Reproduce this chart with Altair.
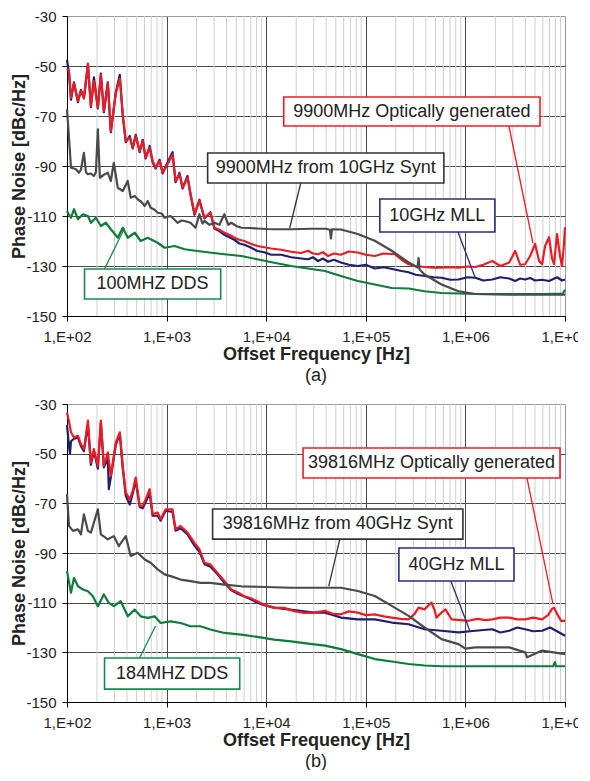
import altair as alt
import pandas as pd

FONT = "Liberation Sans"

# ---------------- Panel (a) data : x = log10(offset frequency), y = dBc/Hz ----------------
A_OPT_X = [2.00,2.02,2.04,2.07,2.11,2.14,2.17,2.21,2.24,2.27,2.31,2.34,2.37,2.41,2.44,2.49,2.53,2.56,2.59,2.63,
           2.66,2.69,2.73,2.76,2.79,2.83,2.86,2.89,2.93,2.96,3.01,3.06,3.09,3.13,3.16,3.21,3.24,3.28,3.33,3.38,
           3.44,3.48,3.53,3.58,3.63,3.68,3.73,3.78,3.84,3.91,3.98,4.05,4.15,4.25,4.35,4.42,4.47,4.52,4.57,4.62,
           4.68,4.75,4.83,4.92,5.00,5.09,5.18,5.29,5.36,5.43,5.50,5.59,5.68,5.76,5.85,5.93,6.02,6.10,6.18,6.27,
           6.35,6.44,6.50,6.55,6.60,6.65,6.70,6.74,6.77,6.80,6.84,6.87,6.89,6.92,6.95,6.97,6.99,7.00]
A_OPT_Y = [-51,-52,-62.7,-57,-64,-60,-62.7,-49,-66,-56,-66.7,-53.5,-68,-57,-76,-61,-55,-69.3,-80,-78.7,
           -82.7,-78,-84,-80,-86.7,-82.7,-88,-90.7,-88,-92.7,-89.3,-85.5,-96,-93.3,-98.7,-94.7,-101,-109,-104,-110.7,
           -108.7,-114.7,-115.5,-116.7,-117.5,-118.7,-119.5,-120,-121,-122,-122.5,-123,-123.5,-124.3,-124.8,-123.9,-125,-125.3,-124.5,-126,
           -125,-125.5,-124.2,-124.6,-125.5,-126,-125,-125.3,-127.5,-129.3,-130,-130.4,-130.7,-130.7,-130.5,-130.7,-130.2,-130.4,-129.5,-128,
           -130,-128.6,-124,-129.5,-129.3,-126,-121.2,-128,-129.3,-122,-118.5,-127,-129.3,-117.2,-126,-130,-121,-114.5]

A_MLL_X = [2.00,2.02,2.04,2.07,2.11,2.14,2.17,2.21,2.24,2.27,2.31,2.34,2.37,2.41,2.44,2.49,2.53,2.56,2.59,2.63,
           2.66,2.69,2.73,2.76,2.79,2.83,2.86,2.89,2.93,2.96,3.01,3.06,3.09,3.13,3.16,3.21,3.24,3.28,3.33,3.38,
           3.44,3.48,3.53,3.58,3.63,3.68,3.73,3.78,3.84,3.91,3.98,4.05,4.15,4.25,4.35,4.42,4.47,4.52,4.57,4.62,
           4.68,4.75,4.83,4.92,5.00,5.09,5.18,5.29,5.36,5.43,5.50,5.59,5.68,5.76,5.85,5.93,6.02,6.10,6.18,6.27,
           6.35,6.44,6.50,6.55,6.60,6.65,6.70,6.77,6.84,6.92,6.97,7.00]
A_MLL_Y = [-47.5,-53,-63.5,-56.5,-64.5,-59.5,-63,-49.5,-66.5,-54.5,-67,-53,-68.5,-56.5,-76.5,-60.5,-53.5,-70,-80.5,-78,
           -83,-77.5,-84.5,-79.5,-87,-82,-88.5,-91,-87.5,-93,-88.5,-84.5,-96.5,-92.8,-99,-94,-101.5,-109.5,-103.5,-111,
           -108.5,-115,-116,-117.5,-118.5,-119.5,-121,-121.5,-122.5,-124,-124.5,-125.5,-125.5,-126.5,-127,-127.3,-126.5,-128,-127,-128.3,
           -127.5,-128.6,-129.5,-130,-129.5,-131,-130.5,-131.4,-132,-132.5,-133.5,-134,-134.5,-134.7,-135.5,-135.4,-134.5,-134.7,-135.8,-135.4,
           -134.5,-135,-136,-135,-135.4,-134.8,-135.8,-135.5,-136,-134.5,-135.8,-135.4]

A_SYN_X = [2.00,2.02,2.04,2.07,2.09,2.12,2.14,2.17,2.19,2.21,2.24,2.27,2.29,2.31,2.33,2.37,2.41,2.44,2.47,2.51,
           2.56,2.61,2.64,2.68,2.71,2.75,2.78,2.81,2.84,2.88,2.91,2.95,2.98,3.04,3.08,3.11,3.15,3.18,3.24,3.29,
           3.33,3.36,3.38,3.43,3.48,3.53,3.58,3.62,3.65,3.70,3.75,3.83,3.91,4.00,4.08,4.25,4.45,4.60,4.64,4.65,
           4.66,4.75,4.92,5.09,5.26,5.43,5.52,5.53,5.54,5.59,5.76,5.93,6.10,6.30,6.44,7.00]
A_SYN_Y = [-67.3,-78.7,-90.7,-91,-91.3,-92.7,-91.5,-84.7,-92.5,-93.3,-93,-94,-92.5,-75.3,-94.7,-93.5,-92.7,-96,-88.7,-98.7,
           -100,-96,-102.7,-102,-103.3,-104.5,-106,-104,-106.7,-107.5,-108.7,-109,-110.7,-110,-111.5,-112.7,-111.8,-112,-112.7,-114.7,
           -109.3,-113,-112,-113.5,-112.7,-113.5,-109.3,-113.5,-112.7,-114,-114.7,-114.8,-115,-115.2,-115.3,-115.3,-115.1,-115.1,-115.5,-119,
           -115.3,-115.4,-117.2,-119.9,-123.9,-128.6,-130.6,-126.8,-131.4,-133.4,-137.4,-140.1,-141.2,-141.4,-141.5,-141.5]

A_DDS_X = [2.00,2.02,2.04,2.07,2.11,2.16,2.21,2.24,2.29,2.34,2.39,2.44,2.51,2.56,2.61,2.68,2.74,2.81,2.91,2.98,
           3.08,3.18,3.31,3.45,3.58,3.75,3.91,4.08,4.25,4.42,4.59,4.75,4.92,5.09,5.26,5.43,5.59,5.76,6.10,6.44,
           6.78,6.98,7.00]
A_DDS_Y = [-108,-109.5,-110.7,-107.3,-111.3,-109.3,-110,-112.7,-110.7,-114,-112.7,-115.3,-118.7,-114.7,-118.7,-116.7,-120,-118.7,-120.7,-122.7,
           -122,-123.3,-124,-124.7,-125.3,-126,-127.3,-128.7,-130,-131,-132,-134,-136,-137.4,-138.8,-139,-140.1,-140.8,-141.2,-141.2,
           -141.2,-141,-139.5]

# ---------------- Panel (b) data ----------------
B_OPT_X = [2.00,2.02,2.04,2.07,2.11,2.14,2.17,2.21,2.24,2.27,2.31,2.34,2.37,2.41,2.44,2.49,2.53,2.56,2.59,2.63,
           2.66,2.69,2.73,2.76,2.79,2.83,2.86,2.91,2.94,2.99,3.06,3.09,3.14,3.21,3.28,3.33,3.38,3.44,3.51,3.58,
           3.65,3.72,3.78,3.84,3.91,3.98,4.08,4.18,4.28,4.38,4.48,4.59,4.67,4.75,4.83,4.92,5.00,5.09,5.18,5.26,
           5.35,5.43,5.49,5.53,5.59,5.63,5.66,5.69,5.71,5.76,5.80,5.86,5.95,6.03,6.12,6.20,6.27,6.35,6.44,6.52,
           6.60,6.68,6.77,6.83,6.87,6.89,6.92,6.96,7.00]
B_OPT_Y = [-33.4,-37,-41.4,-43.5,-42.8,-46.2,-48.2,-36.7,-53.6,-48.2,-54.9,-36.7,-54.9,-49.5,-58.9,-45.5,-41.4,-54.9,-65.7,-68.4,
           -65,-59.6,-71,-71,-68.4,-64.3,-74.4,-73.7,-76.4,-72.4,-72.4,-80.5,-79.1,-81.8,-85.9,-88.5,-93.9,-94.6,-98,-101.3,
           -104.7,-106,-107.4,-108.1,-109.4,-110.8,-112.1,-112.1,-113.4,-114.1,-114,-113.3,-114.5,-114.7,-113.5,-114,-115,-114.7,-115.5,-116,
           -116.5,-116.7,-114.5,-112,-112.7,-111,-110,-113,-116,-114,-112.7,-116.7,-117,-117.3,-116.5,-117,-116.7,-116,-116,-116.7,
           -116.7,-116,-116.7,-115,-112.5,-112,-114.5,-117.3,-117.3]

B_MLL_X = [2.00,2.02,2.03,2.04,2.07,2.11,2.14,2.17,2.21,2.24,2.27,2.31,2.34,2.37,2.41,2.42,2.44,2.49,2.53,2.56,
           2.59,2.63,2.66,2.69,2.73,2.76,2.79,2.83,2.86,2.91,2.94,2.99,3.06,3.09,3.14,3.21,3.28,3.33,3.38,3.44,
           3.51,3.58,3.65,3.72,3.78,3.84,3.91,3.98,4.08,4.18,4.28,4.38,4.48,4.59,4.75,4.92,5.09,5.26,5.43,5.59,
           5.76,5.93,6.10,6.27,6.35,6.44,6.52,6.60,6.68,6.77,6.85,6.92,7.00]
B_MLL_Y = [-38.5,-47,-50,-45,-44,-43.5,-47,-49,-38.5,-54.5,-49,-56,-37.5,-55.5,-52,-64.3,-59.5,-46.5,-42,-56,
           -67,-70.5,-66,-61,-71.5,-72,-69.5,-66,-75,-75,-77,-73,-73.5,-81,-80,-82.5,-87,-89.5,-94.5,-95.5,
           -98.5,-102,-105,-106.5,-107.5,-108.5,-110,-111,-112,-112.5,-113,-113.5,-114,-114,-116,-116.7,-116.7,-118,-118.7,-120.7,
           -121.3,-122,-121.3,-120.7,-122,-121.3,-120,-120.7,-121.5,-121.3,-120,-121.5,-123.3]

B_SYN_X = [2.00,2.02,2.06,2.11,2.14,2.17,2.21,2.24,2.31,2.34,2.41,2.47,2.52,2.59,2.64,2.71,2.78,2.84,2.91,2.98,
           3.04,3.14,3.24,3.34,3.44,3.58,3.75,3.91,4.25,4.42,4.75,4.92,5.09,5.26,5.43,5.59,5.76,5.93,6.00,6.10,
           6.27,6.44,6.60,6.62,6.77,7.00]
B_SYN_Y = [-66.3,-79.1,-81.1,-80.5,-82.5,-74.4,-81.1,-81.8,-72.4,-82.5,-84.5,-83.2,-87.2,-83.2,-91.2,-89.9,-92.6,-93.9,-96.6,-98.6,
           -99.3,-100.7,-101.3,-102,-102,-102.7,-103.4,-103.6,-104,-104,-104,-105.3,-107.3,-111.3,-115.3,-120,-124.7,-126.7,-128.5,-128,
           -128,-128,-130,-132,-129.3,-130.7]

B_DDS_X = [2.00,2.04,2.07,2.11,2.16,2.21,2.26,2.31,2.37,2.42,2.47,2.54,2.61,2.68,2.74,2.81,2.88,2.94,3.04,3.14,
           3.24,3.34,3.44,3.58,3.75,3.91,4.08,4.25,4.42,4.59,4.75,4.92,5.09,5.26,5.43,5.59,5.76,6.10,6.44,6.88,
           6.90,6.91,7.00]
B_DDS_Y = [-97.3,-106,-100,-103.4,-104.7,-105.4,-107.4,-111.4,-106.7,-110.1,-111.4,-109.4,-115.5,-112.8,-115.5,-116.1,-115.5,-118.2,-117.5,-118.2,
           -119.5,-119.5,-120.8,-122.2,-122.9,-123.8,-124.9,-125.6,-126.5,-127.3,-128.7,-130.7,-132.7,-133.7,-134.7,-135.3,-135.6,-135.6,-135.6,-135.6,
           -134,-135.6,-135.6]

# ---------------- Callouts (box corners and leader ends, in log10(f) / dB) ----------------
SERIES_KEYS = ["opt", "synt", "mll", "dds"]
A_LABELS = ["9900MHz Optically generated", "9900MHz from 10GHz Synt", "10GHz MLL", "100MHZ DDS"]
A_BOX_X1 = [4.176, 3.412, 5.141, 2.176]
A_BOX_X2 = [6.749, 5.784, 6.296, 3.543]
A_BOX_Y1 = [-62.4, -84.8, -103.2, -131.2]
A_BOX_Y2 = [-74.0, -96.8, -116.4, -143.2]
A_LEAD_X1 = [6.437, 4.347, 5.925, 2.377]
A_LEAD_Y1 = [-74.0, -96.8, -116.4, -131.2]
A_LEAD_X2 = [6.678, 4.236, 6.096, 2.578]
A_LEAD_Y2 = [-120.8, -114.8, -134.4, -114.8]

B_LABELS = ["39816MHz Optically generated", "39816MHz from 40GHz Synt", "40GHz MLL", "184MHZ DDS"]
B_BOX_X1 = [4.370, 3.462, 5.332, 2.377]
B_BOX_X2 = [6.950, 5.975, 6.488, 3.734]
B_BOX_Y1 = [-47.7, -72.3, -88.0, -132.3]
B_BOX_Y2 = [-59.8, -84.4, -101.3, -144.8]
B_LEAD_X1 = [6.618, 4.739, 5.854, 2.729]
B_LEAD_Y1 = [-59.8, -84.4, -101.3, -132.3]
B_LEAD_X2 = [6.879, 4.628, 6.045, 2.889]
B_LEAD_Y2 = [-110.5, -103.3, -121.4, -119.4]

X_TICKS = [1e2, 1e3, 1e4, 1e5, 1e6, 1e7]
X_MINOR = [m * 10 ** e for e in range(2, 7) for m in range(2, 10)]
Y_TICKS = [-150, -130, -110, -90, -70, -50, -30]

COLORS = {"opt": "#ED1C24", "mll": "#1E1F6E", "synt": "#4A4A4A", "dds": "#0D7D3C"}
BOX_COLORS = {"opt": "#ED1C24", "mll": "#2B2C7C", "synt": "#333333", "dds": "#17894A"}


def panel(series, labels, bx1, bx2, by1, by2, lx1, ly1, lx2, ly2, caption, height):
    xs = alt.Scale(type="log", domain=[100, 1e7], nice=False)
    ys = alt.Scale(domain=[-150, -30], nice=False)
    xaxis = alt.Axis(values=X_TICKS, labelExpr="'1,E+0' + round(log(datum.value)/LN10)",
                     title="Offset Frequency [Hz]", titleFontSize=18, titleFontWeight="bold",
                     labelFontSize=15, tickSize=5, tickColor="#000", domainColor="#000",
                     gridColor={"condition": {"test": "datum.value > 9000000", "value": "#9a9a9a"}, "value": "#4a4a4a"},
                     labelPadding=8, titlePadding=1, labelColor="#222", titleColor="#222",
                     labelFont=FONT, titleFont=FONT, labelFlush=False, labelOverlap=False)
    yaxis = alt.Axis(values=Y_TICKS, labelExpr="'' + datum.value",
                     title="Phase Noise [dBc/Hz]", titleFontSize=18, titleFontWeight="bold",
                     labelFontSize=15, tickSize=5, tickColor="#000", domainColor="#000",
                     gridColor={"condition": {"test": "datum.value > -31", "value": "#9a9a9a"}, "value": "#4a4a4a"},
                     labelPadding=6, titlePadding=-3, labelColor="#222", titleColor="#222",
                     labelFont=FONT, titleFont=FONT, labelFlush=False, labelOverlap=False)

    minor = alt.Chart(pd.DataFrame({"f": X_MINOR})).mark_rule(color="#cfcfcf", strokeWidth=1).encode(
        x=alt.X("f:Q", scale=xs, axis=xaxis)
    )
    layers = [minor]
    for key in ["dds", "mll", "opt", "synt"]:
        xv, yv = series[key]
        df = pd.DataFrame({"f": [10 ** v for v in xv], "pn": yv})
        layers.append(
            alt.Chart(df).mark_line(color=COLORS[key], strokeWidth=2.2, strokeJoin="round").encode(
                x=alt.X("f:Q", scale=xs, axis=xaxis),
                y=alt.Y("pn:Q", scale=ys, axis=yaxis),
            )
        )

    cdf = pd.DataFrame({
        "s": SERIES_KEYS, "label": labels,
        "bx1": [10 ** v for v in bx1], "bx2": [10 ** v for v in bx2],
        "tx": [10 ** ((a + b) / 2) for a, b in zip(bx1, bx2)],
        "by1": by1, "by2": by2, "ty": [(a + b) / 2 for a, b in zip(by1, by2)],
        "lx1": [10 ** v for v in lx1], "lx2": [10 ** v for v in lx2],
        "ly1": ly1, "ly2": ly2,
    })
    cscale = alt.Scale(domain=list(BOX_COLORS.keys()), range=list(BOX_COLORS.values()))
    leaders = alt.Chart(cdf).mark_rule(strokeWidth=1.3).encode(
        x=alt.X("lx1:Q", scale=xs, axis=xaxis), x2="lx2:Q",
        y=alt.Y("ly1:Q", scale=ys, axis=yaxis), y2="ly2:Q",
        color=alt.Color("s:N", scale=cscale, legend=None),
    )
    boxes = alt.Chart(cdf).mark_rect(fill="white", strokeWidth=1.6).encode(
        x=alt.X("bx1:Q", scale=xs, axis=xaxis), x2="bx2:Q",
        y=alt.Y("by1:Q", scale=ys, axis=yaxis), y2="by2:Q",
        stroke=alt.Stroke("s:N", scale=cscale, legend=None),
    )
    texts = alt.Chart(cdf).mark_text(fontSize=18, font=FONT, color="#222", align="center", baseline="middle").encode(
        x=alt.X("tx:Q", scale=xs, axis=xaxis),
        y=alt.Y("ty:Q", scale=ys, axis=yaxis),
        text="label:N",
    )
    layers += [leaders, boxes, texts]
    return alt.layer(*layers).properties(
        width=498, height=height,
        title=alt.TitleParams(caption, orient="bottom", fontSize=18, fontWeight="normal", font=FONT,
                              color="#222", offset=4),
    )


pa = panel({"opt": (A_OPT_X, A_OPT_Y), "mll": (A_MLL_X, A_MLL_Y), "synt": (A_SYN_X, A_SYN_Y), "dds": (A_DDS_X, A_DDS_Y)},
           A_LABELS, A_BOX_X1, A_BOX_X2, A_BOX_Y1, A_BOX_Y2, A_LEAD_X1, A_LEAD_Y1, A_LEAD_X2, A_LEAD_Y2, "(a)", 300)
pb = panel({"opt": (B_OPT_X, B_OPT_Y), "mll": (B_MLL_X, B_MLL_Y), "synt": (B_SYN_X, B_SYN_Y), "dds": (B_DDS_X, B_DDS_Y)},
           B_LABELS, B_BOX_X1, B_BOX_X2, B_BOX_Y1, B_BOX_Y2, B_LEAD_X1, B_LEAD_Y1, B_LEAD_X2, B_LEAD_Y2, "(b)", 298)

chart = alt.vconcat(pa, pb, spacing=10).properties(
    padding={"left": 2, "top": 0, "right": -12, "bottom": -2}
).configure_view(stroke="#9a9a9a", strokeWidth=1).configure(font=FONT)

chart.save("out.html", embed_options={"renderer": "svg", "actions": False})
